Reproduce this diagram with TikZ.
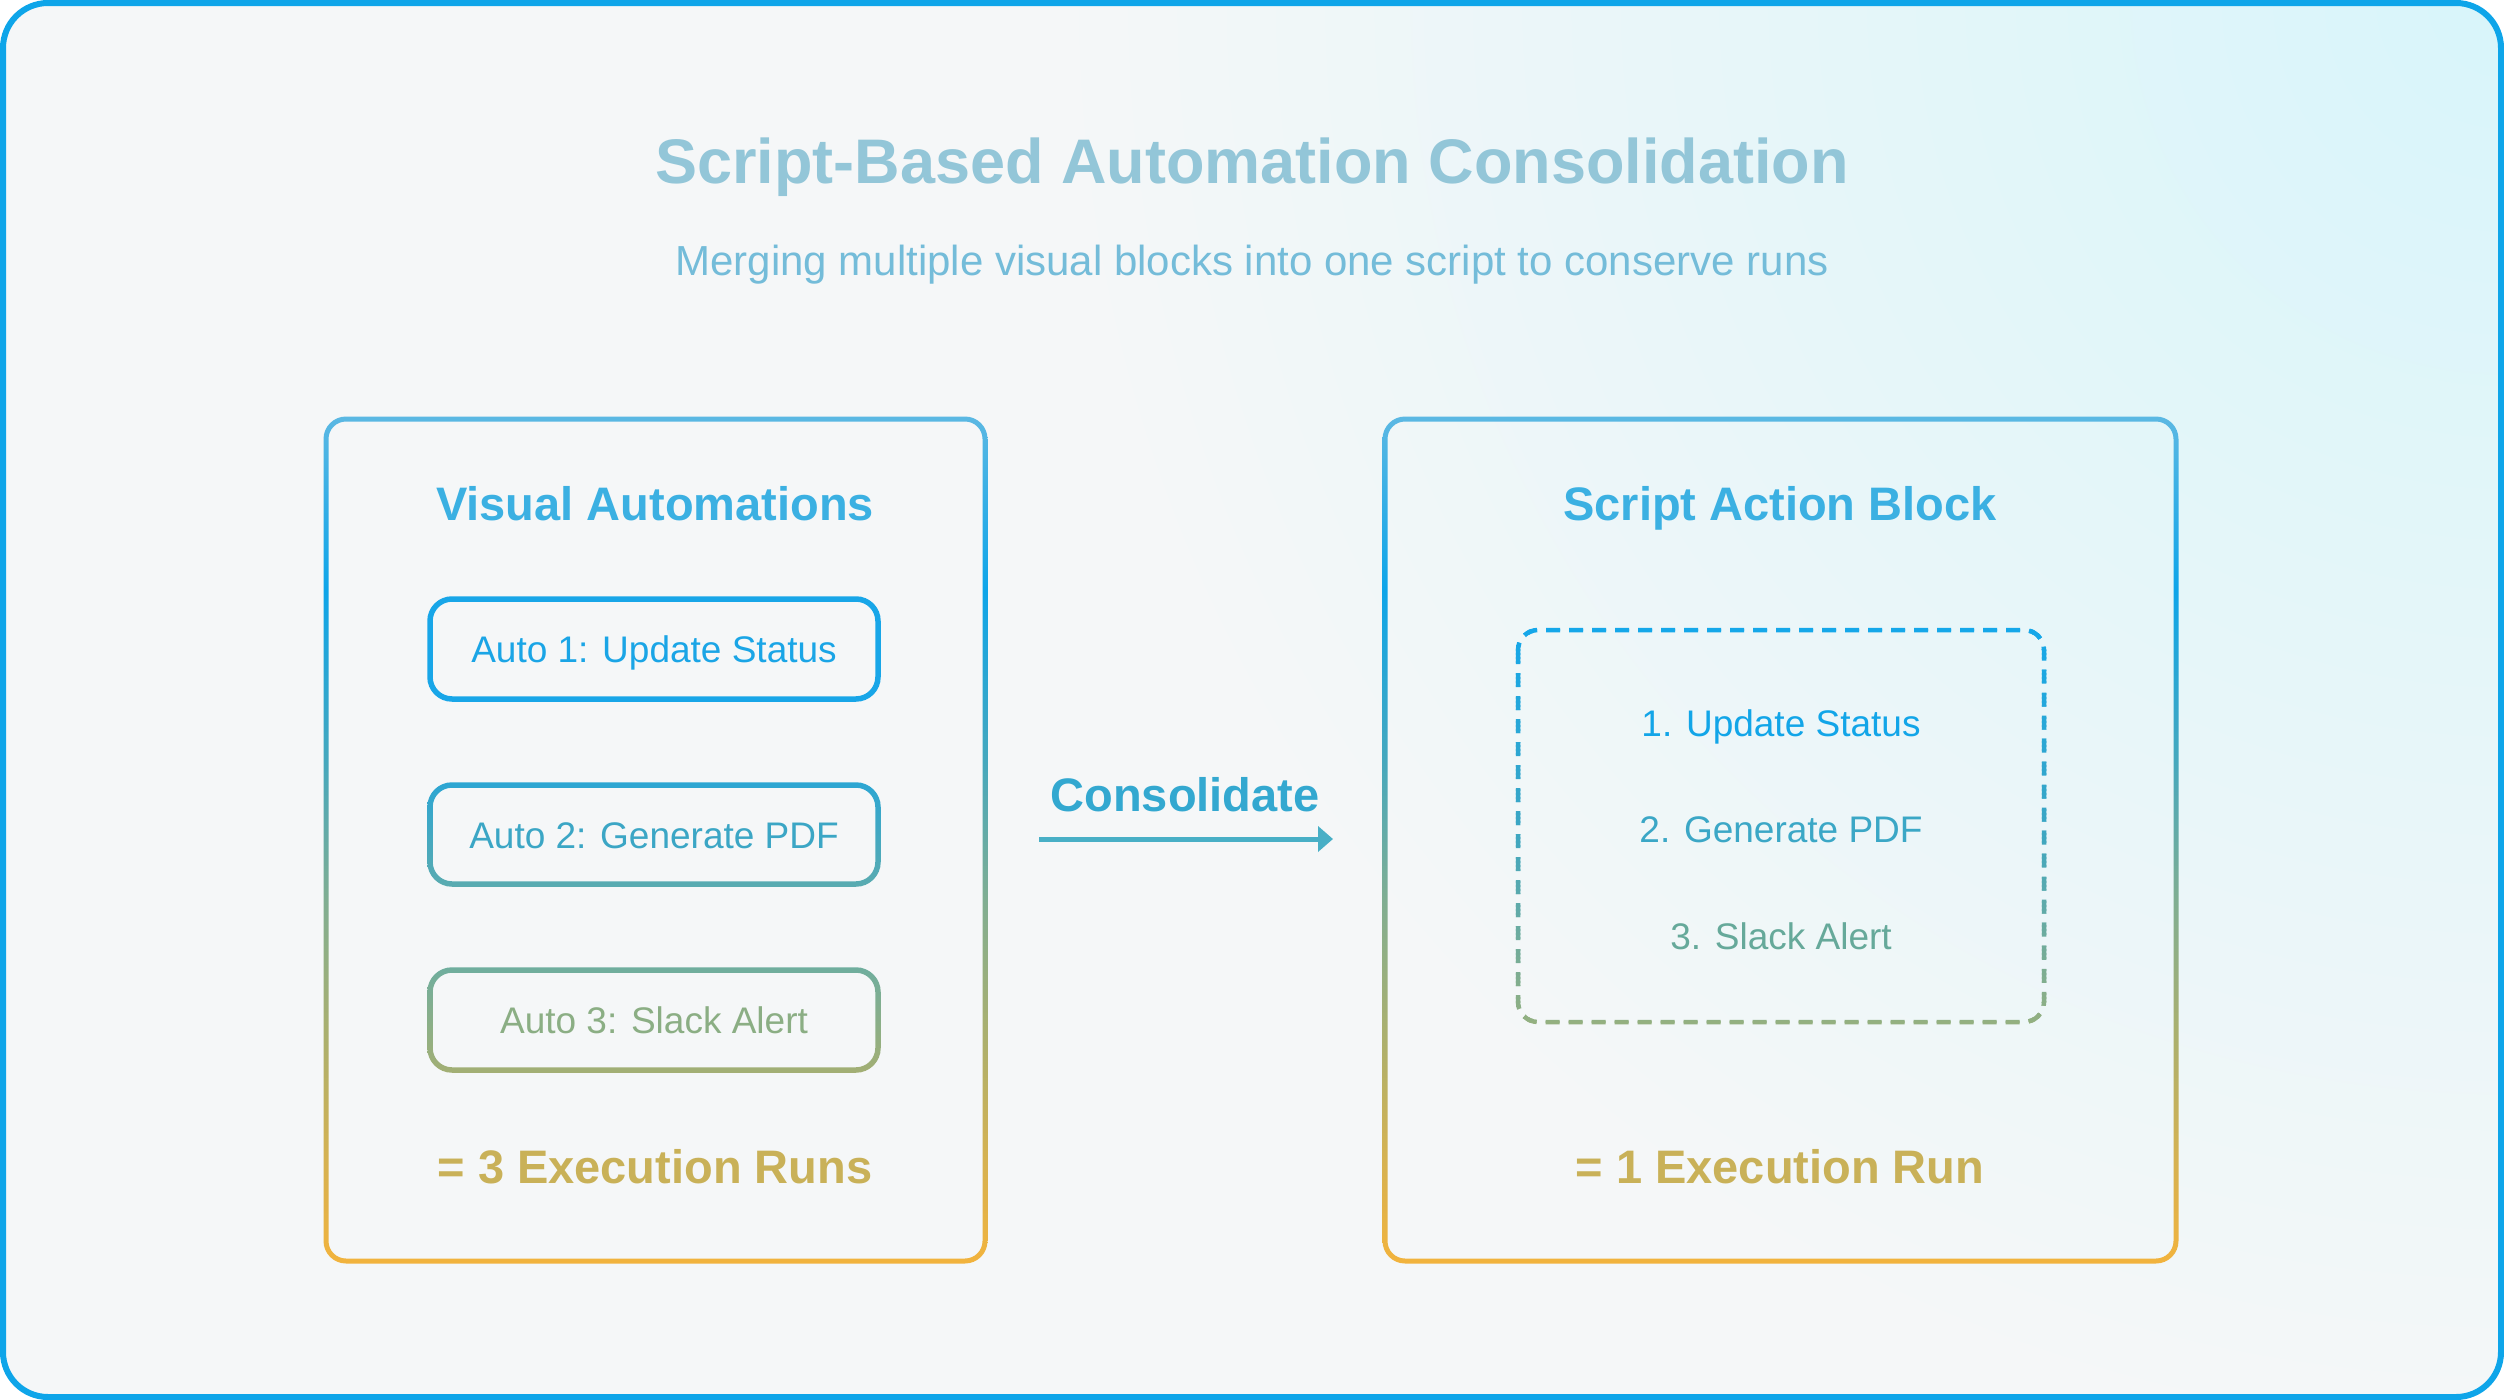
\documentclass[tikz,border=0pt]{standalone}
\usepackage{fontspec}
\setmainfont{Liberation Sans}
\usetikzlibrary{arrows.meta}
\definecolor{frameblue}{HTML}{0EA5E9}
\definecolor{bgbase}{HTML}{F5F7F8}
\definecolor{bgcyan}{HTML}{D8F5FA}
\definecolor{titlecol}{HTML}{93C6D8}
\definecolor{subcol}{HTML}{74BCD9}
\definecolor{headcol}{HTML}{3BB0E2}
\definecolor{goldcol}{HTML}{C9B158}
\definecolor{conscol}{HTML}{33A8D0}
\definecolor{arrowcol}{HTML}{48AFC6}
\definecolor{s0}{HTML}{5BB8E3}
\definecolor{s1}{HTML}{0EA5E9}
\definecolor{s2}{HTML}{45A8BE}
\definecolor{s3}{HTML}{80AE92}
\definecolor{s4}{HTML}{B0B06A}
\definecolor{s5}{HTML}{D6B251}
\definecolor{s6}{HTML}{F2B33D}
\definecolor{boxA}{HTML}{18A6E8}
\definecolor{txtA}{HTML}{1AA5E6}
\definecolor{boxBt}{HTML}{2CA6D3}
\definecolor{boxBb}{HTML}{5AABB0}
\definecolor{txtB}{HTML}{3BA6C5}
\definecolor{boxCt}{HTML}{6FAE9E}
\definecolor{boxCb}{HTML}{A3AF74}
\definecolor{txtC}{HTML}{8BAE84}
\definecolor{dTop}{HTML}{14A7EA}
\definecolor{dMid}{HTML}{3BA6C4}
\definecolor{dBot}{HTML}{94B080}
\definecolor{rA}{HTML}{12A5E8}
\definecolor{rB}{HTML}{3BA7C6}
\definecolor{rC}{HTML}{66A99A}
\pgfdeclareverticalshading{panelshade}{100bp}{color(0bp)=(s6); color(25bp)=(s6); color(31.09bp)=(s5); color(37.59bp)=(s4); color(46.45bp)=(s3); color(54.73bp)=(s2); color(64.78bp)=(s1); color(75bp)=(s0); color(100bp)=(s0)}
\pgfdeclareradialshading{bgglow}{\pgfpoint{0bp}{0bp}}{color(0bp)=(bgcyan); color(9bp)=(bgcyan!65!bgbase); color(25bp)=(bgbase); color(50bp)=(bgbase)}
% ring: x0 y0 x1 y1 (centre line), radius, width, shading options
\newcommand\gradring[7]{%
  \shade[#7, even odd rule]
    [rounded corners={#5+#6/2}] ({#1-#6/2},{#2-#6/2}) rectangle ({#3+#6/2},{#4+#6/2})
    [rounded corners={#5-#6/2}] ({#1+#6/2},{#2+#6/2}) rectangle ({#3-#6/2},{#4-#6/2});}
\begin{document}
\begin{tikzpicture}[x=1pt,y=-1pt,
  titlesty/.style={font=\fontsize{63}{70}\selectfont\bfseries, text=titlecol, anchor=base, inner sep=0pt},
  substy/.style={font=\fontsize{42}{48}\selectfont, text=subcol, anchor=base, inner sep=0pt},
  headsty/.style={font=\fontsize{47}{54}\selectfont\bfseries, anchor=base, inner sep=0pt},
  itemsty/.style={font=\fontsize{37}{42}\selectfont, anchor=base, inner sep=0pt},
  dashbox/.style={line width=4.5pt, dash pattern=on 14pt off 9pt, rounded corners=20pt},
  arrowsty/.style={line width=5pt, draw=arrowcol, -{Triangle[length=15pt,width=25pt]}}]
\useasboundingbox (0,0) rectangle (2504,1400);
% background and frame
\begin{scope}
  \clip[rounded corners=45pt] (3,3) rectangle (2501,1397);
  \fill[bgbase] (0,0) rectangle (2504,1400);
  \shade[shading=bgglow] (2504,0) circle (1450pt);
\end{scope}
\draw[line width=6pt, frameblue, rounded corners=45pt] (3,3) rectangle (2501,1397);
% titles
\node[titlesty] (title) at (1252,183) {Script-Based Automation Consolidation};
\node[substy] (subtitle) at (1252,275) {Merging multiple visual blocks into one script to conserve runs};
% panels
\gradring{326}{419}{985}{1261}{20}{5}{shading=panelshade}
\gradring{1385}{419}{2176}{1261}{20}{5}{shading=panelshade}
\coordinate (leftpanel) at (655.5,840);
\coordinate (rightpanel) at (1780.5,840);
% left panel
\node[headsty, text=headcol] (lhead) at (655,520) {Visual Automations};
\draw[line width=5.5pt, boxA, rounded corners=22pt] (430,599) rectangle (878,699);
\node[itemsty, text=txtA] (auto1) at (654,662) {Auto 1: Update Status};
\gradring{430}{785}{878}{884}{22}{5.5}{top color=boxBt, bottom color=boxBb}
\node[itemsty, text=txtB] (auto2) at (654,848) {Auto 2: Generate PDF};
\gradring{430}{970}{878}{1070}{22}{5.5}{top color=boxCt, bottom color=boxCb}
\node[itemsty, text=txtC] (auto3) at (654,1033) {Auto 3: Slack Alert};
\node[headsty, text=goldcol] (lruns) at (655,1183) {= 3 Execution Runs};
% arrow
\node[headsty, text=conscol] (cons) at (1185,811) {Consolidate};
\coordinate (arrS) at (1039,839);
\coordinate (arrE) at (1333,839);
\draw[arrowsty] (arrS) -- (arrE);
% right panel
\node[headsty, text=headcol] (rhead) at (1780,520) {Script Action Block};
\foreach \k in {0,...,49}{
  \pgfmathsetmacro\ya{625+4*\k}
  \pgfmathsetmacro\yb{630+4*\k}
  \pgfmathtruncatemacro\p{100*\k/49}
  \colorlet{gc}{dMid!\p!dTop}
  \begin{scope}
    \clip (1500,\ya) rectangle (2060,\yb);
    \draw[dashbox, gc] (1518,630) rectangle (2044,1022);
  \end{scope}
}
\foreach \k in {0,...,49}{
  \pgfmathsetmacro\ya{825+4*\k}
  \pgfmathsetmacro\yb{830+4*\k}
  \pgfmathtruncatemacro\p{100*\k/49}
  \colorlet{gc}{dBot!\p!dMid}
  \begin{scope}
    \clip (1500,\ya) rectangle (2060,\yb);
    \draw[dashbox, gc] (1518,630) rectangle (2044,1022);
  \end{scope}
}
\coordinate (scriptbox) at (1781,826);
\node[itemsty, text=rA] (step1) at (1781,736) {1. Update Status};
\node[itemsty, text=rB] (step2) at (1781,842) {2. Generate PDF};
\node[itemsty, text=rC] (step3) at (1781,949) {3. Slack Alert};
\node[headsty, text=goldcol] (rruns) at (1780,1183) {= 1 Execution Run};
\end{tikzpicture}
\end{document}
